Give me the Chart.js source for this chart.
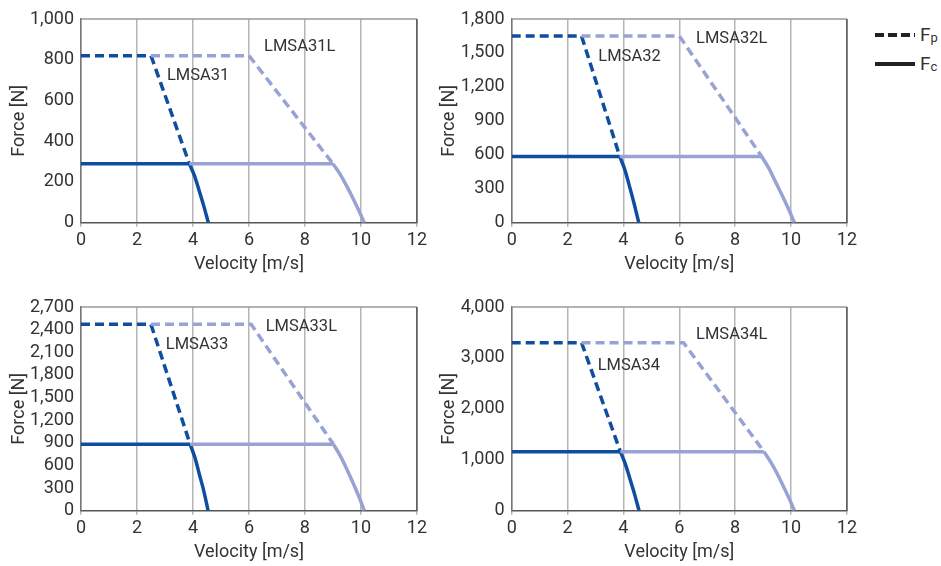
<!DOCTYPE html>
<html><head><meta charset="utf-8">
<script src="https://cdn.jsdelivr.net/npm/chart.js@4/dist/chart.umd.min.js"></script>
<style>
html,body{margin:0;padding:0;background:#fff;width:941px;height:566px;overflow:hidden;position:relative;font-family:Roboto,"Liberation Sans",sans-serif;color:#333;}
.pane{position:absolute;width:430px;height:280px;}
canvas{display:block}
.lg{position:absolute;font-size:19px;line-height:20px;color:#333;}
.lg sub{font-size:13px;vertical-align:-1px;}
</style></head><body>
<div class="pane" style="left:0;top:0"><canvas id="c1" width="430" height="280"></canvas></div>
<div class="pane" style="left:430px;top:0"><canvas id="c2" width="430" height="280"></canvas></div>
<div class="pane" style="left:0;top:288.3px"><canvas id="c3" width="430" height="280"></canvas></div>
<div class="pane" style="left:430px;top:288.3px"><canvas id="c4" width="430" height="280"></canvas></div>
<svg style="position:absolute;left:870px;top:25px" width="50" height="50">
  <line x1="5" y1="10" x2="45" y2="10" stroke="#222" stroke-width="4" stroke-dasharray="9,4"/>
  <line x1="5" y1="39" x2="45" y2="39" stroke="#222" stroke-width="4"/>
</svg>
<div class="lg" style="left:920px;top:25px">F<sub>p</sub></div>
<div class="lg" style="left:920px;top:54px">F<sub>c</sub></div>
<script>
// ---- data (velocity in m/s, force in N) ----
const models = ["LMSA31", "LMSA32", "LMSA33", "LMSA34"];
const yMax   = [1000, 1800, 2700, 4000];
const yStep  = [200, 300, 300, 1000];

// standard models: peak force (dashed) and continuous force (solid)
const fpX_31 = [0, 2.5, 3.87];        const fpY_31 = [820, 820, 290];
const fcX_31 = [0, 3.87, 4.05, 4.22, 4.37, 4.55]; const fcY_31 = [290, 290, 232, 158, 90, 0];
const fpX_32 = [0, 2.5, 3.87];        const fpY_32 = [1650, 1650, 585];
const fcX_32 = [0, 3.87, 4.05, 4.22, 4.37, 4.55]; const fcY_32 = [585, 585, 468, 319, 181, 0];
const fpX_33 = [0, 2.5, 3.9];         const fpY_33 = [2470, 2470, 880];
const fcX_33 = [0, 3.9, 4.07, 4.23, 4.38, 4.54];  const fcY_33 = [880, 880, 704, 480, 273, 0];
const fpX_34 = [0, 2.5, 3.89];        const fpY_34 = [3300, 3300, 1160];
const fcX_34 = [0, 3.89, 4.06, 4.23, 4.38, 4.56]; const fcY_34 = [1160, 1160, 928, 632, 360, 0];

// long models (L)
const fpX_31L = [2.5, 6.0, 9.0];      const fpY_31L = [820, 820, 290];
const fcX_31L = [3.87, 9.0, 9.25, 9.5, 9.75, 9.95, 10.12];  const fcY_31L = [290, 290, 240, 178, 110, 52, 0];
const fpX_32L = [2.5, 6.0, 8.95];     const fpY_32L = [1650, 1650, 585];
const fcX_32L = [3.87, 8.95, 9.2, 9.45, 9.72, 9.94, 10.12]; const fcY_32L = [585, 585, 484, 359, 222, 105, 0];
const fpX_33L = [2.5, 6.08, 9.02];    const fpY_33L = [2470, 2470, 880];
const fcX_33L = [3.9, 9.02, 9.26, 9.51, 9.76, 9.96, 10.12]; const fcY_33L = [880, 880, 729, 540, 334, 158, 0];
const fpX_34L = [2.5, 6.15, 9.03];    const fpY_34L = [3300, 3300, 1160];
const fcX_34L = [3.89, 9.03, 9.27, 9.52, 9.76, 9.96, 10.12]; const fcY_34L = [1160, 1160, 960, 712, 440, 208, 0];

// model name label anchors (data coordinates)
const lblX  = [3.07, 3.1, 3.03, 3.08];   const lblY  = [720, 1461, 2200, 2847];
const lblLX = [6.54, 6.6, 6.6, 6.6];     const lblLY = [864, 1623, 2443, 3456];

// ---- build ----
const DARK = "#0f4da0", LIGHT = "#99a2d5";
const FONT = 'Roboto,"Liberation Sans",sans-serif';
const pts = (xs, ys) => xs.map((x, i) => ({x, y: ys[i]}));
const sets = [
  [fpX_31, fpY_31, fcX_31, fcY_31, fpX_31L, fpY_31L, fcX_31L, fcY_31L],
  [fpX_32, fpY_32, fcX_32, fcY_32, fpX_32L, fpY_32L, fcX_32L, fcY_32L],
  [fpX_33, fpY_33, fcX_33, fcY_33, fpX_33L, fpY_33L, fcX_33L, fcY_33L],
  [fpX_34, fpY_34, fcX_34, fcY_34, fpX_34L, fpY_34L, fcX_34L, fcY_34L]
];
const yAxisW = [81, 81.7, 81, 81.7];
const rightPad = [8.3, 7.3, 8.3, 7.3];

const framePlugin = {
  id: 'frame',
  beforeDatasetsDraw(chart) {
    const {ctx, chartArea: a} = chart;
    ctx.save();
    ctx.lineWidth = 1.5;
    ctx.strokeStyle = '#9a9a9a';
    ctx.beginPath(); ctx.moveTo(a.left, a.top); ctx.lineTo(a.right, a.top); ctx.stroke();
    ctx.strokeStyle = '#555';
    ctx.beginPath(); ctx.moveTo(a.right, a.top); ctx.lineTo(a.right, a.bottom); ctx.stroke();
    ctx.restore();
  },
  afterDatasetsDraw(chart, args, opts) {
    const {ctx, scales: {x, y}} = chart;
    ctx.save();
    ctx.font = '16.5px ' + FONT;
    ctx.fillStyle = '#333';
    ctx.textAlign = 'left';
    ctx.textBaseline = 'middle';
    ctx.fillText(opts.name, x.getPixelForValue(opts.lx), y.getPixelForValue(opts.ly));
    ctx.fillText(opts.name + 'L', x.getPixelForValue(opts.llx), y.getPixelForValue(opts.lly));
    ctx.restore();
  }
};

models.forEach((name, i) => {
  const s = sets[i];
  const line = (xs, ys, color, dashed, curved) => ({
    data: pts(xs, ys), showLine: true, borderColor: color, borderWidth: 3.5,
    borderDash: dashed ? [9, 5] : [], pointRadius: 0, fill: false,
    cubicInterpolationMode: curved ? 'monotone' : 'default', tension: curved ? 0.4 : 0,
    borderCapStyle: 'butt', borderJoinStyle: 'round'
  });
  // continuous-force line: flat part (first two points) and falling curve (from the knee on)
  const fcFlat = (xs, ys, c) => line(xs.slice(0, 2), ys.slice(0, 2), c, false, false);
  const fcCurve = (xs, ys, c) => line(xs.slice(1), ys.slice(1), c, false, true);
  new Chart(document.getElementById('c' + (i + 1)), {
    type: 'scatter',
    data: { datasets: [
      line(s[4], s[5], LIGHT, true, false),
      fcFlat(s[6], s[7], LIGHT),
      fcCurve(s[6], s[7], LIGHT),
      line(s[0], s[1], DARK, true, false),
      fcFlat(s[2], s[3], DARK),
      fcCurve(s[2], s[3], DARK)
    ]},
    options: {
      responsive: false, animation: false, devicePixelRatio: 1,
      layout: { padding: { top: 19, right: rightPad[i], bottom: 1.3, left: 0 } },
      plugins: {
        legend: { display: false }, tooltip: { enabled: false },
        frame: { name: name, lx: lblX[i], ly: lblY[i], llx: lblLX[i], lly: lblLY[i] }
      },
      scales: {
        x: {
          type: 'linear', min: 0, max: 12,
          ticks: { stepSize: 2, color: '#333', font: { family: FONT, size: 18 }, padding: 3, maxRotation: 0, autoSkip: false },
          grid: { color: '#b5b5b5', lineWidth: 1.5, drawTicks: true, tickLength: 4 },
          border: { color: '#555', width: 1.5 },
          title: { display: true, text: 'Velocity [m/s]', color: '#333', font: { family: FONT, size: 18 }, padding: { top: 0, bottom: 3 } },
          afterFit: sc => { sc.height = 56; }
        },
        y: {
          type: 'linear', min: 0, max: yMax[i],
          ticks: { stepSize: yStep[i], color: '#333', font: { family: FONT, size: 18 }, padding: 7, autoSkip: false,
                   callback: v => v.toLocaleString('en-US') },
          grid: { display: false, drawTicks: false },
          border: { color: '#777', width: 1.5 },
          title: { display: true, text: 'Force [N]', color: '#333', font: { family: FONT, size: 18 }, padding: { top: 9, bottom: 0 } },
          afterFit: sc => { sc.width = yAxisW[i]; }
        }
      }
    },
    plugins: [framePlugin]
  });
});
</script>
</body></html>
